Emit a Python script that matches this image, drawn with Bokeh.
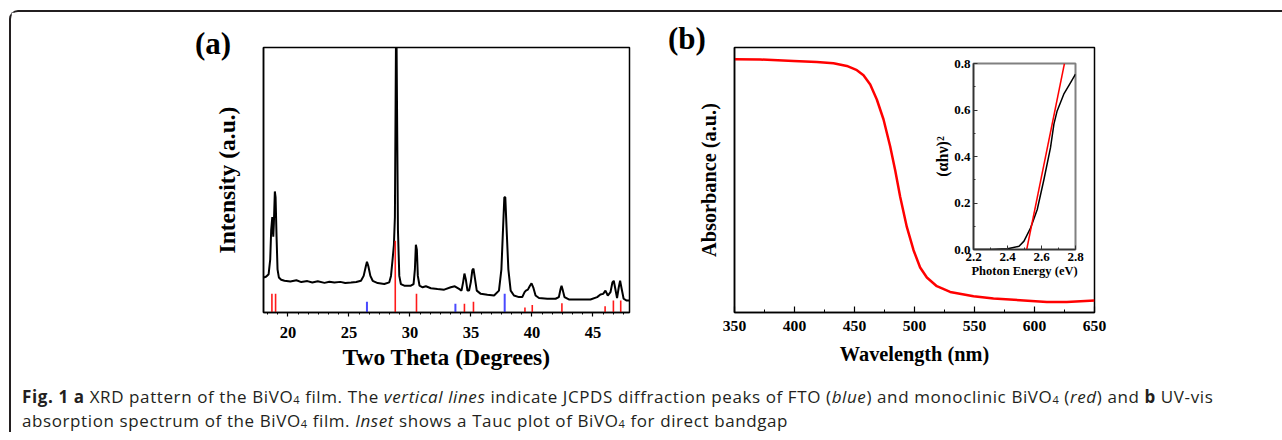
from bokeh.plotting import figure
from bokeh.models import Range1d, FixedTicker, SingleIntervalTicker, Div, PrintfTickFormatter
from bokeh.layouts import row, column
from bokeh.embed import file_html
from bokeh.resources import INLINE

# ---------------- data: (a) XRD ----------------
xrd_two_theta = [18.04, 18.23, 18.42, 18.55, 18.63, 18.72, 18.80, 18.85, 18.93, 18.99, 19.07, 19.15,
                 19.26, 19.45, 19.72, 20.2, 20.7, 21.1, 21.6, 22.0, 22.45, 23.0, 23.4, 23.81, 24.3,
                 24.7, 25.18, 25.6, 25.99, 26.21, 26.38, 26.48, 26.59, 26.76, 26.95, 27.36, 27.90,
                 28.31, 28.45, 28.58, 28.69, 28.77, 28.83, 28.88, 28.94, 29.02, 29.13, 29.26, 29.54,
                 30.08, 30.30, 30.41, 30.49, 30.57, 30.65, 30.79, 31.04, 31.31, 31.72, 32.26, 32.81,
                 33.35, 33.68, 34.03, 34.23, 34.36, 34.47, 34.58, 34.72, 34.85, 34.99, 35.12, 35.21,
                 35.32, 35.48, 35.81, 36.35, 36.90, 37.30, 37.50, 37.63, 37.74, 37.82, 37.93, 38.07,
                 38.26, 38.53, 38.94, 39.21, 39.40, 39.51, 39.67, 39.84, 39.97, 40.11, 40.30, 40.58,
                 41.26, 41.94, 42.21, 42.35, 42.43, 42.54, 42.67, 43.03, 43.98, 44.80, 45.35, 45.62,
                 45.84, 46.03, 46.22, 46.44, 46.60, 46.71, 46.84, 46.98, 47.12, 47.23, 47.36, 47.52,
                 47.74, 47.98]
xrd_intensity = [35.7, 36.7, 39.0, 54.0, 84.0, 97.3, 77.3, 90.7, 123.3, 117.3, 77.3, 44.0,
                 35.7, 33.3, 32.3, 31.5, 32.8, 31.0, 32.0, 30.6, 31.8, 30.2, 31.3, 30.5, 31.2,
                 30.0, 30.5, 31.0, 32.3, 37.3, 46.7, 51.7, 47.3, 37.3, 32.3, 30.0, 29.0,
                 30.7, 37.3, 54.0, 69.0, 97.0, 217.0, 320.0, 217.0, 84.0, 37.3, 29.0, 27.3,
                 27.3, 29.0, 44.0, 69.0, 64.0, 37.3, 27.3, 25.7, 26.7, 24.7, 24.0, 23.3,
                 25.7, 26.7, 24.0, 22.3, 30.7, 39.7, 34.0, 22.3, 22.3, 30.7, 43.3, 44.7,
                 35.7, 22.3, 19.0, 18.0, 17.3, 22.3, 44.0, 84.0, 117.3, 117.3, 84.0, 44.0,
                 22.3, 17.3, 15.7, 15.7, 20.7, 22.3, 23.3, 27.3, 29.7, 25.7, 17.3, 14.7,
                 14.0, 14.0, 15.7, 24.0, 27.3, 22.3, 15.7, 13.3, 13.3, 13.3, 15.7, 18.3,
                 19.0, 22.3, 17.3, 20.7, 30.7, 32.3, 24.0, 14.7, 25.7, 32.3, 24.0, 14.0,
                 12.3, 12.3]
bivo4_ref_two_theta = [18.69, 18.99, 28.80, 30.54, 34.47, 35.21, 39.43, 40.03, 42.46, 46.00, 46.68, 47.28]
bivo4_ref_height = [19, 19, 73, 19, 9, 11, 5, 7.7, 9.3, 6.3, 12.3, 12.3]
fto_ref_two_theta = [26.48, 33.73, 37.77]
fto_ref_height = [11, 9, 19]

# ---------------- data: (b) UV-vis ----------------
uv_wavelength = [350, 371.4, 399.2, 418.6, 432.5, 443.6, 452.0, 457.5, 463.1, 468.6, 474.2, 479.7,
                 483.9, 488.1, 493.6, 499.2, 504.7, 510.3, 518.6, 529.7, 549.2, 565.8, 588.0,
                 610.3, 626.9, 650]
uv_absorbance = [253.3, 253.0, 251.6, 250.6, 249.3, 246.6, 242.3, 237.3, 228.0, 213.0, 193.0, 166.3,
                 142.3, 115.6, 85.6, 62.3, 45.0, 35.0, 26.3, 20.6, 16.3, 14.0, 12.3,
                 10.6, 10.6, 12.0]

# ---------------- data: inset Tauc ----------------
tauc_energy = [2.20, 2.30, 2.40, 2.468, 2.497, 2.536, 2.575, 2.614, 2.653, 2.673, 2.692, 2.731, 2.771, 2.80]
tauc_value = [0.0, 0.0005, 0.003, 0.014, 0.036, 0.093, 0.172, 0.300, 0.438, 0.539, 0.596, 0.668, 0.718, 0.754]
fit_energy = [2.513, 2.735]
fit_value = [0.0, 0.8]

panel_labels = ["(a)", "(b)"]

SERIF = "Liberation Serif"

# ---------------- panel (a) ----------------
pa = figure(width=643, height=370, output_backend="svg", toolbar_location=None,
            x_range=Range1d(18, 48), y_range=Range1d(0, 270),
            min_border_left=252, min_border_right=25, min_border_top=32, min_border_bottom=68)
pa.line(xrd_two_theta, xrd_intensity, line_color="black", line_width=2)
pa.segment(x0=bivo4_ref_two_theta, y0=[0] * len(bivo4_ref_two_theta), x1=bivo4_ref_two_theta,
           y1=bivo4_ref_height, line_color="#ff1a1a", line_width=1.6)
pa.segment(x0=fto_ref_two_theta, y0=[0] * len(fto_ref_two_theta), x1=fto_ref_two_theta,
           y1=fto_ref_height, line_color="#4a4aff", line_width=2)
pa.grid.visible = False
pa.outline_line_color = "black"
pa.outline_line_width = 1.5
pa.xaxis.ticker = SingleIntervalTicker(interval=5, num_minor_ticks=6)
pa.xaxis.major_tick_in = 0
pa.xaxis.major_tick_out = 4
pa.xaxis.minor_tick_in = 0
pa.xaxis.minor_tick_out = 2
pa.xaxis.major_label_standoff = 10
pa.xaxis.axis_label = "Two Theta (Degrees)"
pa.xaxis.axis_label_standoff = 3
pa.yaxis.ticker = FixedTicker(ticks=[])
pa.yaxis.axis_label = "Intensity (a.u.)"
pa.yaxis.axis_label_standoff = 24
for ax in pa.axis:
    ax.axis_line_width = 1.5
    ax.major_tick_line_width = 1.2
    ax.minor_tick_line_width = 1
    ax.major_label_text_font = SERIF
    ax.major_label_text_font_style = "bold"
    ax.major_label_text_font_size = "16.5px"
    ax.major_label_text_color = "black"
    ax.axis_label_text_font = SERIF
    ax.axis_label_text_font_style = "bold"
    ax.axis_label_text_font_size = "23.5px"
    ax.axis_label_text_color = "black"

# ---------------- panel (b) ----------------
pb = figure(width=630, height=370, output_backend="svg", toolbar_location=None,
            x_range=Range1d(350, 650), y_range=Range1d(0, 265),
            min_border_left=80, min_border_right=190, min_border_top=35, min_border_bottom=70)
pb.line(uv_wavelength, uv_absorbance, line_color="#ff0000", line_width=2.5)
pb.grid.visible = False
pb.outline_line_color = "black"
pb.outline_line_width = 1.5
pb.xaxis.ticker = SingleIntervalTicker(interval=50, num_minor_ticks=2)
pb.xaxis.major_tick_in = 6
pb.xaxis.major_tick_out = 0
pb.xaxis.minor_tick_in = 3
pb.xaxis.minor_tick_out = 0
pb.xaxis.major_label_standoff = 8
pb.xaxis.axis_label = "Wavelength (nm)"
pb.xaxis.axis_label_standoff = 9
pb.yaxis.ticker = FixedTicker(ticks=[])
pb.yaxis.axis_label = "Absorbance (a.u.)"
pb.yaxis.axis_label_standoff = 15
for ax in pb.axis:
    ax.axis_line_width = 1.5
    ax.major_tick_line_width = 1.2
    ax.minor_tick_line_width = 1
    ax.major_label_text_font = SERIF
    ax.major_label_text_font_style = "bold"
    ax.major_label_text_font_size = "15.6px"
    ax.major_label_text_color = "black"
    ax.axis_label_text_font = SERIF
    ax.axis_label_text_font_style = "bold"
    ax.axis_label_text_font_size = "20.3px"
    ax.axis_label_text_color = "black"

# ---------------- inset ----------------
pi = figure(width=165, height=234, output_backend="svg", toolbar_location=None,
            x_range=Range1d(2.2, 2.8), y_range=Range1d(0, 0.8),
            min_border_left=48, min_border_right=15, min_border_top=13, min_border_bottom=35,
            border_fill_color=None, background_fill_color="white",
            styles={"position": "absolute", "left": "914px", "top": "38px"})
pi.line(tauc_energy, tauc_value, line_color="black", line_width=1.5)
pi.line(fit_energy, fit_value, line_color="#ff0000", line_width=1.5)
pi.grid.visible = False
pi.outline_line_color = "#808080"
pi.outline_line_width = 2
pi.xaxis.ticker = FixedTicker(ticks=[2.2, 2.4, 2.6, 2.8], minor_ticks=[2.3, 2.5, 2.7])
pi.yaxis.ticker = FixedTicker(ticks=[0.0, 0.2, 0.4, 0.6, 0.8], minor_ticks=[0.1, 0.3, 0.5, 0.7])
pi.xaxis.axis_label = "Photon Energy (eV)"
pi.yaxis.axis_label = "(\u03b1h\u03bd)\u00b2"
for ax in pi.axis:
    ax.formatter = PrintfTickFormatter(format="%.1f")
    ax.axis_line_color = "#333333"
    ax.axis_line_width = 1.5
    ax.major_tick_in = 4
    ax.major_tick_out = 0
    ax.minor_tick_in = 2
    ax.minor_tick_out = 0
    ax.major_tick_line_color = "#333333"
    ax.minor_tick_line_color = "#333333"
    ax.major_label_standoff = 3
    ax.axis_label_standoff = 0
    ax.major_label_text_font = SERIF
    ax.major_label_text_font_style = "bold"
    ax.major_label_text_font_size = "13px"
    ax.major_label_text_color = "black"
    ax.axis_label_text_font = SERIF
    ax.axis_label_text_font_style = "bold"
    ax.axis_label_text_font_size = "12.5px"
    ax.axis_label_text_color = "black"
pi.yaxis.axis_label_text_font_size = "16px"


def panel_tag(text, left, top):
    html = ('<div style="font-family:\'Liberation Serif\';font-weight:bold;font-size:31px;'
            'line-height:31px;color:black;white-space:nowrap">' + text + '</div>')
    return Div(text=html, width=50, height=36, margin=0,
               styles={"position": "absolute", "left": f"{left}px", "top": f"{top}px"})


tag_a = panel_tag(panel_labels[0], 184, 16)
tag_b = panel_tag(panel_labels[1], 657, 11)

# ---------------- caption ----------------
SUB = '<sub style="font-size:11px;vertical-align:-1px;line-height:0">4</sub>'
caption_html = (
    '<div style="font-family:\'Open Sans\';font-size:17px;line-height:23.5px;letter-spacing:0.6px;'
    'color:#231f20;white-space:nowrap">'
    '<b>Fig. 1</b> <b>a</b> XRD pattern of the BiVO' + SUB + ' film. '
    'The <i>vertical lines</i> indicate JCPDS diffraction peaks of FTO (<i>blue</i>) and monoclinic '
    'BiVO' + SUB + ' (<i>red</i>) and <b>b</b> UV-vis<br>'
    'absorption spectrum of the BiVO' + SUB + ' film. '
    '<i>Inset</i> shows a Tauc plot of BiVO' + SUB + ' for direct bandgap'
    '</div>'
)
caption = Div(text=caption_html, width=1250, height=47, margin=(3, 0, 0, 11))

root = column(row(pa, pb), caption, pi, tag_a, tag_b, width=1273,
              styles={"border-left": "2px solid #231f20", "border-top": "2px solid #231f20",
                      "border-top-left-radius": "9px", "position": "relative"})
root.margin = (10, 0, 0, 9)

open("out.html", "w").write(file_html(root, INLINE))
